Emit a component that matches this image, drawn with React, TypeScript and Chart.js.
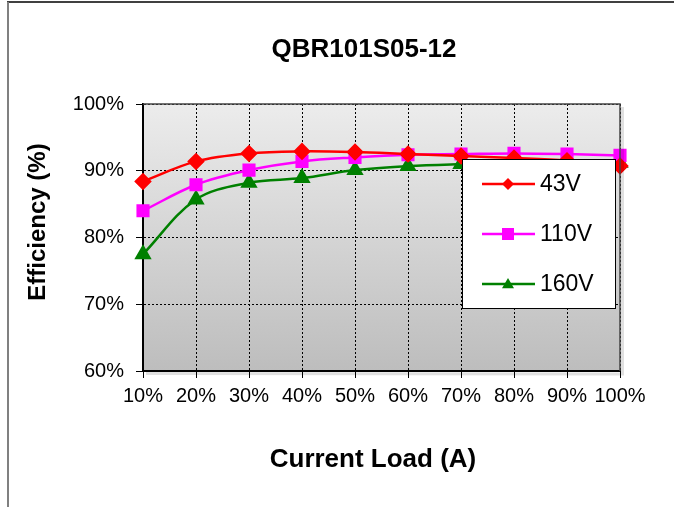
import React, { useEffect, useRef } from "react";
import { Chart, registerables } from "chart.js";

Chart.register(...registerables);

const chartTitle = "QBR101S05-12";
const xTitle = "Current Load (A)";
const yTitle = "Efficiency (%)";
const categories = ["10%", "20%", "30%", "40%", "50%", "60%", "70%", "80%", "90%", "100%"];
const seriesNames = ["43V", "110V", "160V"];
const eff43V = [88.4, 91.4, 92.6, 92.9, 92.8, 92.5, 92.2, 91.9, 91.5, 90.7];
const eff110V = [84.0, 87.9, 90.1, 91.4, 92.0, 92.4, 92.5, 92.6, 92.5, 92.3];
const eff160V = [77.5, 85.7, 88.2, 88.9, 90.1, 90.7, 91.0, 91.2, 91.3, 91.2];
const yMin = 60;
const yMax = 100;
const yStep = 10;

const FONT = "'Liberation Sans', Arial, sans-serif";

const framePlugin = {
  id: "frameAndTitles",
  beforeDraw(chart: any) {
    const { ctx, chartArea } = chart;
    const { left, top, right, bottom } = chartArea;
    ctx.save();
    const g = ctx.createLinearGradient(0, top, 0, bottom);
    g.addColorStop(0, "#ececec");
    g.addColorStop(1, "#bdbdbd");
    ctx.fillStyle = g;
    ctx.fillRect(left, top, right - left, bottom - top);
    ctx.restore();
  },
  afterDraw(chart: any) {
    const { ctx, chartArea } = chart;
    const { left, top, right, bottom } = chartArea;
    ctx.save();
    // plot frame top/right with shadow
    ctx.strokeStyle = "rgba(0,0,0,0.12)";
    ctx.lineWidth = 3;
    ctx.beginPath();
    ctx.moveTo(right + 2.5, top + 3);
    ctx.lineTo(right + 2.5, bottom + 3);
    ctx.lineTo(left + 3, bottom + 2.5);
    ctx.stroke();
    ctx.strokeStyle = "#444";
    ctx.lineWidth = 1.5;
    ctx.beginPath();
    ctx.moveTo(left, top);
    ctx.lineTo(right, top);
    ctx.lineTo(right, bottom);
    ctx.stroke();

    // outer frame
    ctx.strokeStyle = "#000";
    ctx.lineWidth = 1.5;
    ctx.beginPath();
    ctx.moveTo(7, 2);
    ctx.lineTo(674, 2);
    ctx.stroke();
    ctx.strokeStyle = "#808080";
    ctx.lineWidth = 2;
    ctx.beginPath();
    ctx.moveTo(8, 2);
    ctx.lineTo(8, 507);
    ctx.stroke();

    // titles
    ctx.fillStyle = "#000";
    ctx.textAlign = "center";
    ctx.textBaseline = "middle";
    ctx.font = `bold 26px ${FONT}`;
    ctx.fillText(chartTitle, 364, 50);
    ctx.fillText(xTitle, 373, 460);
    ctx.translate(38, 222);
    ctx.rotate(-Math.PI / 2);
    ctx.font = `bold 24px ${FONT}`;
    ctx.fillText(yTitle, 0, 0);
    ctx.restore();

    // legend
    ctx.save();
    const bx = 462, by = 159, bw = 153, bh = 149;
    ctx.fillStyle = "#fff";
    ctx.fillRect(bx, by, bw, bh);
    ctx.strokeStyle = "#000";
    ctx.lineWidth = 1;
    ctx.strokeRect(bx + 0.5, by + 0.5, bw, bh);
    chart.data.datasets.forEach((ds: any, i: number) => {
      const y = by + 25 + i * 50;
      ctx.strokeStyle = ds.borderColor;
      ctx.lineWidth = 2.5;
      ctx.beginPath();
      ctx.moveTo(482, y);
      ctx.lineTo(535, y);
      ctx.stroke();
      ctx.fillStyle = ds.pointBackgroundColor;
      const cx = 508;
      ctx.beginPath();
      if (ds.pointStyle === "rectRot") {
        const r = 6;
        ctx.moveTo(cx, y - r);
        ctx.lineTo(cx + r, y);
        ctx.lineTo(cx, y + r);
        ctx.lineTo(cx - r, y);
      } else if (ds.pointStyle === "rect") {
        ctx.rect(cx - 6, y - 6, 12, 12);
      } else {
        const r = 6;
        ctx.moveTo(cx, y - r);
        ctx.lineTo(cx + r, y + r * 0.7);
        ctx.lineTo(cx - r, y + r * 0.7);
      }
      ctx.closePath();
      ctx.fill();
      ctx.fillStyle = "#000";
      ctx.font = `23px ${FONT}`;
      ctx.textAlign = "left";
      ctx.textBaseline = "middle";
      ctx.fillText(ds.label, 540, y + 1);
    });
    ctx.restore();
  },
};

export default function App() {
  const ref = useRef<HTMLCanvasElement | null>(null);
  useEffect(() => {
    document.body.style.margin = "0";
    const canvas = ref.current!;
    const chart = new Chart(canvas, {
      type: "line",
      data: {
        labels: categories,
        datasets: [
          {
            label: seriesNames[0],
            data: eff43V,
            borderColor: "#ff0000",
            backgroundColor: "#ff0000",
            pointBackgroundColor: "#ff0000",
            pointBorderColor: "#ff0000",
            pointStyle: "rectRot",
            pointRadius: 7,
            borderWidth: 2.5,
            tension: 0.35,
          },
          {
            label: seriesNames[1],
            data: eff110V,
            borderColor: "#ff00ff",
            backgroundColor: "#ff00ff",
            pointBackgroundColor: "#ff00ff",
            pointBorderColor: "#ff00ff",
            pointStyle: "rect",
            pointRadius: 7.5,
            borderWidth: 2.5,
            tension: 0.35,
          },
          {
            label: seriesNames[2],
            data: eff160V,
            borderColor: "#008000",
            backgroundColor: "#008000",
            pointBackgroundColor: "#008000",
            pointBorderColor: "#008000",
            pointStyle: "triangle",
            pointRadius: 7.5,
            borderWidth: 2.5,
            tension: 0.35,
          },
        ],
      },
      options: {
        responsive: false,
        animation: false,
        layout: { padding: { left: 0, right: 54, top: 104, bottom: 0 } },
        plugins: {
          legend: { display: false },
          title: { display: false },
          tooltip: { enabled: false },
        },
        scales: {
          x: {
            offset: false,
            afterFit: (s: any) => {
              s.height = 136;
            },
            grid: {
              color: "#000",
              lineWidth: 1,
              tickLength: 7,
              tickColor: "#000",
              drawTicks: true,
            },
            border: { display: true, color: "#000", width: 2, dash: [2, 2] },
            ticks: {
              color: "#000",
              padding: 6,
              maxRotation: 0,
              autoSkip: false,
              font: { family: FONT, size: 20 },
            },
          },
          y: {
            min: yMin,
            max: yMax,
            afterFit: (s: any) => {
              s.width = 143;
            },
            grid: {
              color: "#000",
              lineWidth: 1,
              tickLength: 7,
              tickColor: "#000",
            },
            border: { display: true, color: "#000", width: 2, dash: [2, 2] },
            ticks: {
              stepSize: yStep,
              color: "#000",
              padding: 12,
              font: { family: FONT, size: 20 },
              callback: (v: any) => `${v}%`,
            },
          },
        },
      },
      plugins: [framePlugin],
    });
    return () => chart.destroy();
  }, []);
  return (
    <div style={{ width: 674, height: 507 }}>
      <canvas ref={ref} width={674} height={507} style={{ display: "block" }} />
    </div>
  );
}
